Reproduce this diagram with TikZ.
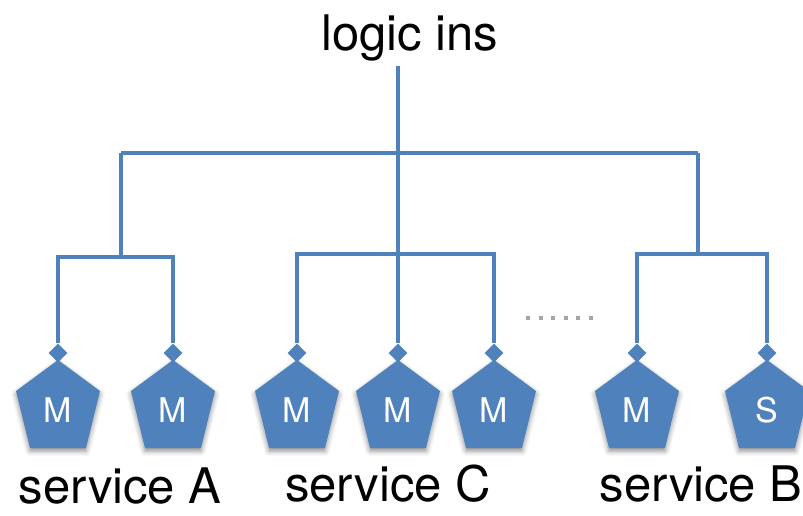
\documentclass[tikz,border=0pt]{standalone}
\usepackage{fontspec}
\setmainfont{TeX Gyre Heros}
\usetikzlibrary{shapes.geometric,shadows.blur}
\definecolor{linkblue}{HTML}{4F81BD}
\definecolor{dotgray}{HTML}{A6A6A6}
\tikzset{
  bus/.style={draw=linkblue, line width=3.8pt},
  hook/.style={diamond, fill=linkblue, minimum size=19pt, inner sep=0pt},
  pent/.style={fill=linkblue, blur shadow={shadow xshift=0pt, shadow yshift=-3pt, shadow blur radius=5pt, shadow opacity=45}},
  letter/.style={text=white, font=\fontsize{34}{36}\selectfont, anchor=base},
  caption/.style={text=black, font=\fontsize{49}{52}\selectfont, anchor=base, inner sep=0pt},
  dot/.style={fill=dotgray, minimum size=4pt, inner sep=0pt}
}
\begin{document}
\begin{tikzpicture}[x=1pt, y=-1pt]
  \useasboundingbox (0,0) rectangle (803,515);

  % root label
  \node[caption] (root) at (410,50) {logic ins};

  % pentagon members: name / centre x / letter
  \foreach \n/\cx/\t in {a1/58/M, a2/173/M, c1/297/M, c2/398/M, c3/494/M, b1/637/M, b2/767/S} {
    \path[pent] (\cx,360) -- (\cx+42,391) -- (\cx+28,448) -- (\cx-28,448) -- (\cx-42,391) -- cycle;
    \node[letter] (\n) at (\cx,422) {\t};
    \node[hook] (h\n) at (\cx,353) {};
  }

  % bus junctions
  \coordinate (top) at (398,66);
  \coordinate (tl) at (121,153);
  \coordinate (tr) at (698,153);
  \coordinate (ga) at (121,257);
  \coordinate (gc) at (398,254);
  \coordinate (gb) at (698,254);

  % trunk and upper bar
  \draw[bus] (top) -- (gc);
  \draw[bus] (tl) -- (tr);
  \draw[bus] (tl) -- (ga);
  \draw[bus] (tr) -- (gb);

  % group A
  \draw[bus] (ha1.north) |- (ga) -| (ha2.north);
  % group C
  \draw[bus] (hc1.north) |- (gc) -| (hc3.north);
  \draw[bus] (gc) -- (hc2.north);
  % group B
  \draw[bus] (hb1.north) |- (gb) -| (hb2.north);

  % ellipsis between groups
  \foreach \i in {0,...,5} {
    \node[dot] (d\i) at (528+12.5*\i,318) {};
  }

  % group captions
  \node[caption] (sa) at (120,503) {service A};
  \node[caption] (sc) at (388,501) {service C};
  \node[caption] (sb) at (701,501) {service B};
\end{tikzpicture}
\end{document}
